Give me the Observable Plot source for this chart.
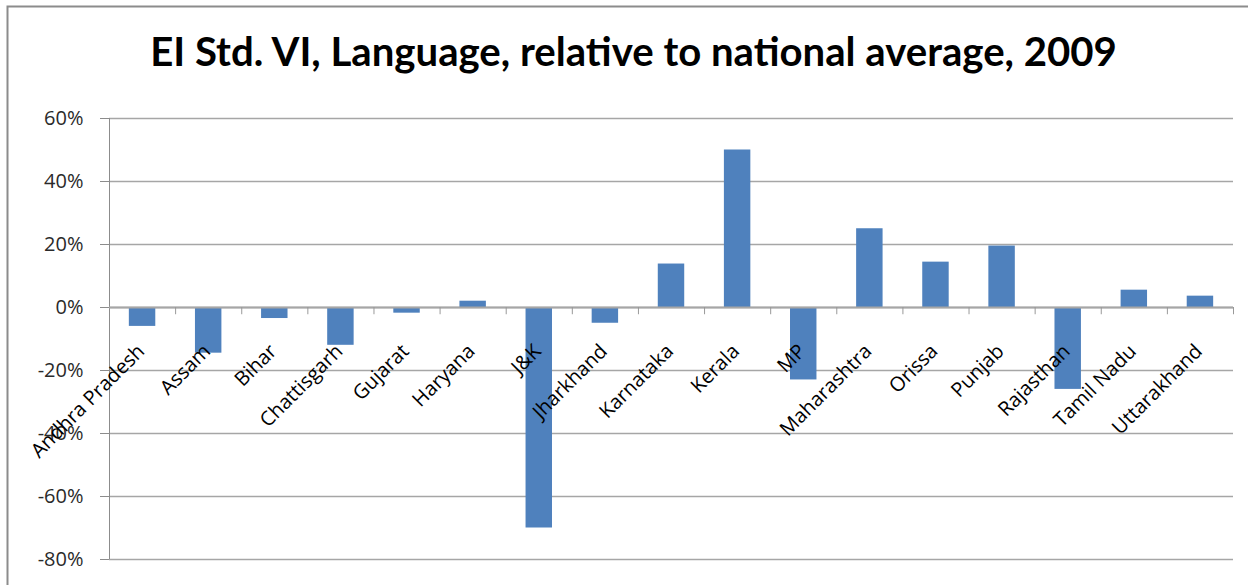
<!DOCTYPE html>
<html>
<head>
<meta charset="utf-8">
<script src="https://cdn.jsdelivr.net/npm/d3@7"></script>
<script src="https://cdn.jsdelivr.net/npm/@observablehq/plot@0.6"></script>
<style>
  html, body { margin: 0; padding: 0; background: #ffffff; }
  #chart { width: 1251px; height: 585px; overflow: hidden; }
  svg { display: block; }
</style>
</head>
<body>
<div id="chart"></div>
<script>
const title = "EI Std. VI, Language, relative to national average, 2009";
const categories = ["Andhra Pradesh", "Assam", "Bihar", "Chattisgarh", "Gujarat", "Haryana", "J&K", "Jharkhand", "Karnataka", "Kerala", "MP", "Maharashtra", "Orissa", "Punjab", "Rajasthan", "Tamil Nadu", "Uttarakhand"];
const values = [-6, -14.5, -3.5, -12, -1.8, 2, -70, -5, 13.8, 50, -23, 25, 14.4, 19.5, -26, 5.5, 3.6];
const yTicks = [-80, -60, -40, -20, 0, 20, 40, 60];

const data = categories.map((c, i) => ({category: c, index: i, value: values[i]}));
const boundaries = d3.range(1, categories.length + 1);

const W = 1251, H = 585;
const plot = Plot.plot({
  width: W,
  height: H,
  marginTop: 118,
  marginBottom: 26,
  marginLeft: 109,
  marginRight: 18,
  style: {background: "#ffffff", fontFamily: "'Open Sans', sans-serif", overflow: "visible"},
  x: {type: "linear", domain: [0, categories.length], axis: null},
  y: {domain: [-80, 60], axis: null},
  marks: [
    // horizontal gridlines
    Plot.ruleY(yTicks, {x1: 0, x2: categories.length, stroke: "#a6a6a6", strokeWidth: 1.3}),
    // y axis line
    Plot.ruleX([0], {y1: -80, y2: 60, stroke: "#8c8c8c", strokeWidth: 1}),
    // y axis ticks and labels
    Plot.axisY(yTicks, {
      anchor: "left",
      tickSize: 9,
      tickPadding: 17,
      stroke: "#8c8c8c",
      fill: "#2a2a2a",
      fontSize: 20,
      tickFormat: d => `${d}%`,
      label: null
    }),
    // bars
    Plot.rectY(data, {x1: d => d.index + 0.3, x2: d => d.index + 0.7, y1: 0, y2: "value", fill: "#4f81bd"}),
    // category axis line at zero
    Plot.ruleY([0], {x1: 0, x2: categories.length, stroke: "#a6a6a6", strokeWidth: 2}),
    // category tick marks
    Plot.ruleX(boundaries, {y1: 0, y2: -2.3, stroke: "#999999", strokeWidth: 1}),
    // category labels
    Plot.text(data, {
      x: d => d.index + 0.5,
      y: 0,
      text: "category",
      rotate: -45,
      textAnchor: "end",
      lineAnchor: "bottom",
      dx: 3,
      dy: 45,
      fontSize: 20,
      fill: "#000000"
    })
  ]
});

document.getElementById("chart").appendChild(plot);

const svg = d3.select(plot);
// outer chart frame (left and top edges visible in the reference)
svg.append("path")
  .attr("d", `M7.5,${H + 5} V6.5 H1248`)
  .attr("fill", "none")
  .attr("stroke", "#8c8c8c")
  .attr("stroke-width", 2);

// title
const t = svg.append("text")
  .attr("x", 633.5)
  .attr("y", 66)
  .attr("text-anchor", "middle")
  .attr("font-family", "Lato, 'Open Sans', sans-serif")
  .attr("font-weight", "bold")
  .attr("font-size", 33)
  .attr("fill", "#000000")
  .text(title);
const len = t.node().getComputedTextLength();
if (len > 0) t.attr("font-size", 33 * 967 / len);
</script>
</body>
</html>
